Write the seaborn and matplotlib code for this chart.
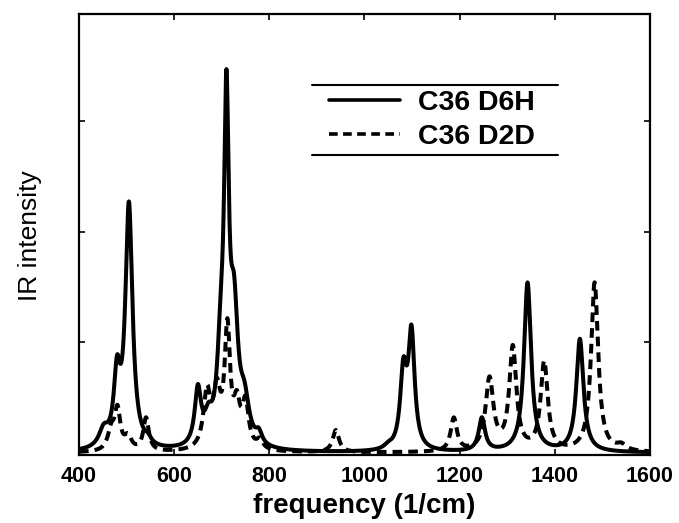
import numpy as np
import pandas as pd
import matplotlib
matplotlib.use("Agg")
import matplotlib.pyplot as plt
import seaborn as sns

# Band positions (1/cm), peak amplitudes (arb. units) and half widths (1/cm)
d6h_pos = [452, 480, 505, 545, 650, 672, 698, 710, 726, 748, 778, 1050, 1082, 1099, 1247, 1343, 1453]
d6h_amp = [0.15, 0.60, 2.20, 0.05, 0.50, 0.20, 0.70, 2.85, 1.10, 0.35, 0.10, 0.03, 0.67, 1.03, 0.30, 1.53, 1.02]
d6h_hw = [12, 8, 9, 8, 8, 10, 9, 6, 10, 12, 8, 10, 8, 8, 8, 9, 9]

d2d_pos = [468, 481, 503, 541, 669, 690, 712, 732, 750, 780, 940, 1188, 1263, 1312, 1378, 1484, 1540]
d2d_amp = [0.18, 0.35, 0.12, 0.30, 0.50, 0.48, 1.06, 0.35, 0.40, 0.08, 0.20, 0.30, 0.65, 0.93, 0.80, 1.53, 0.05]
d2d_hw = [9, 7, 9, 7, 9, 9, 7, 8, 8, 8, 8, 8, 10, 9, 9, 9, 12]

series_names = ["C36 D6H", "C36 D2D"]
x_ticks = [400, 600, 800, 1000, 1200, 1400, 1600]

freq = np.arange(400, 1600.5, 0.5)


def lorentz_sum(pos, amp, hw):
    pos = np.asarray(pos, float)[:, None]
    amp = np.asarray(amp, float)[:, None]
    hw = np.asarray(hw, float)[:, None]
    return (amp * hw ** 2 / ((freq[None, :] - pos) ** 2 + hw ** 2)).sum(axis=0)


df = pd.concat([
    pd.DataFrame({"freq": freq, "intensity": lorentz_sum(d6h_pos, d6h_amp, d6h_hw), "series": series_names[0]}),
    pd.DataFrame({"freq": freq, "intensity": lorentz_sum(d2d_pos, d2d_amp, d2d_hw), "series": series_names[1]}),
])

sns.set_style("white")
plt.rcParams["font.family"] = ["Liberation Sans", "DejaVu Sans"]
plt.rcParams["text.color"] = "black"
plt.rcParams["axes.labelcolor"] = "black"
plt.rcParams["xtick.color"] = "black"
plt.rcParams["ytick.color"] = "black"

fig = plt.figure(figsize=(6.79, 5.23), dpi=100)
ax = fig.add_axes([0.1163, 0.130, 0.8407, 0.843])

sns.lineplot(data=df, x="freq", y="intensity", style="series",
             dashes={series_names[0]: "", series_names[1]: (2.4, 1.5)},
             color="black", linewidth=2.9, ax=ax, legend=True, estimator=None)

ax.set_xlim(400, 1600)
ax.set_ylim(-0.02, 3.97)
ax.set_xticks(x_ticks)
ax.set_xticklabels([str(t) for t in x_ticks], fontsize=15.5, fontweight="bold")
ax.set_yticks([1, 2, 3])
ax.set_yticklabels([])
ax.tick_params(axis="both", direction="in", length=4, width=1.2,
               top=True, right=True, bottom=True, left=True)
ax.tick_params(axis="x", pad=8)
for sp in ax.spines.values():
    sp.set_linewidth(1.6)
    sp.set_color("black")

ax.set_xlabel("frequency (1/cm)", fontsize=20, fontweight="bold", labelpad=4)
ax.set_ylabel("IR intensity", fontsize=19)
ax.yaxis.set_label_coords(-0.065, 0.497)

handles, labels = ax.get_legend_handles_labels()
leg = ax.legend(handles, labels, loc="center", bbox_to_anchor=(0.618, 0.760),
                frameon=False, prop={"size": 20.5, "weight": "bold"},
                handlelength=2.5, handletextpad=0.63, labelspacing=0.27,
                borderpad=0.0)
for h in leg.get_lines():
    h.set_linewidth(2.6)

# rules above and below the legend entries
for yy in (0.839, 0.680):
    ax.plot([0.408, 0.839], [yy, yy], transform=ax.transAxes, color="black",
            linewidth=1.5, clip_on=False)

fig.savefig("out.png", dpi=100)
